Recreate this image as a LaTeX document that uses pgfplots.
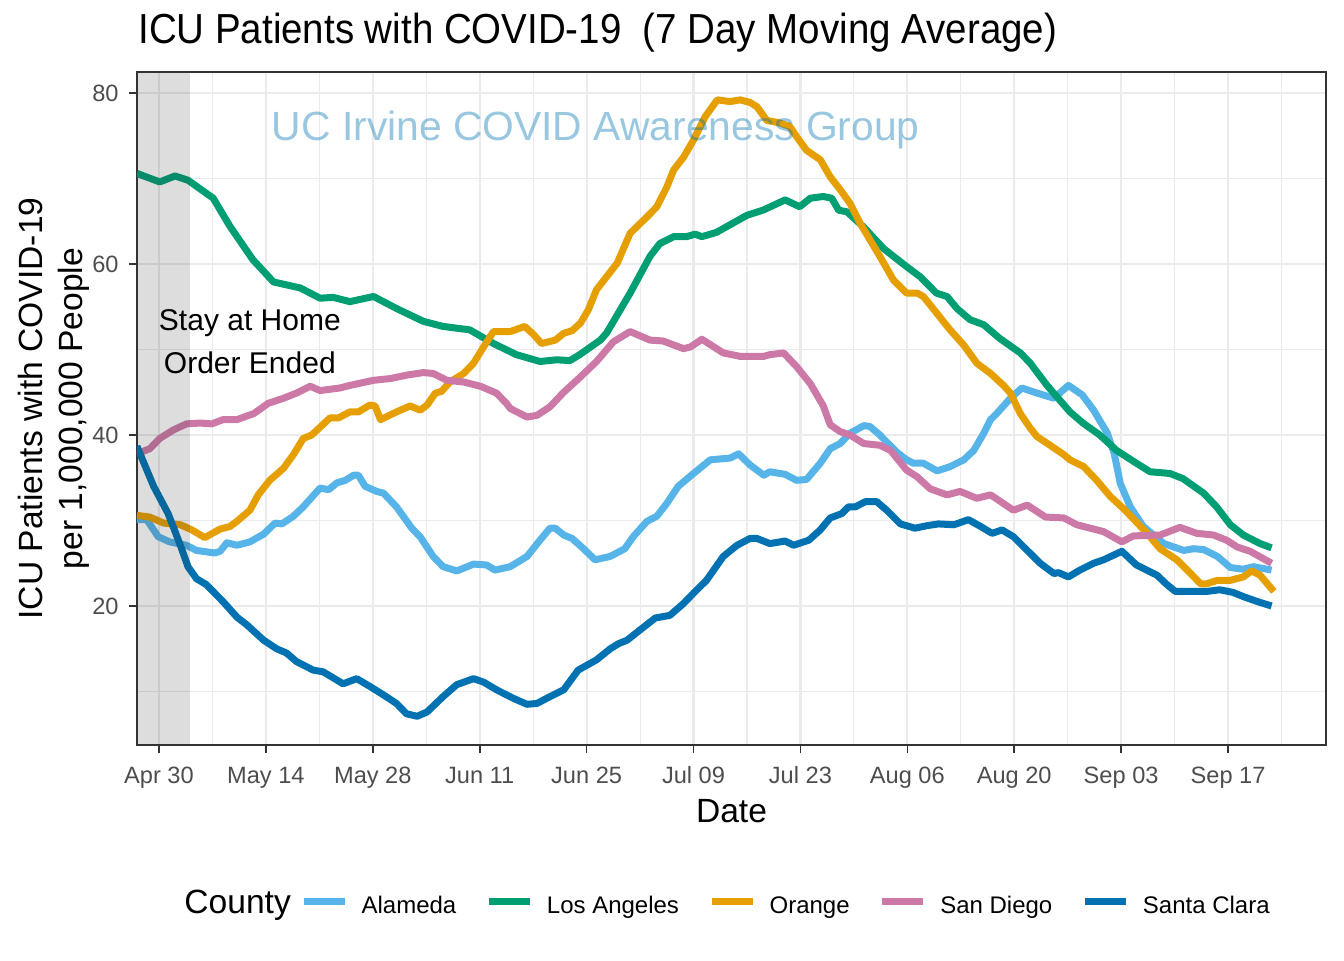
\documentclass[border=0pt]{standalone}
\usepackage{fontspec}
\setmainfont{Liberation Sans}
\usepackage{pgfplots}
\pgfplotsset{compat=1.18}
\definecolor{cAla}{HTML}{56B4E9}
\definecolor{cLA}{HTML}{009E73}
\definecolor{cOra}{HTML}{E69F00}
\definecolor{cSD}{HTML}{CC79A7}
\definecolor{cSC}{HTML}{0072B2}
\definecolor{gridc}{RGB}{235,235,235}
\definecolor{grey20}{RGB}{51,51,51}
\definecolor{grey30}{RGB}{77,77,77}
\begin{document}
\begin{tikzpicture}
\path[use as bounding box] (-68.5pt,-107.5pt) rectangle (603.5pt,372.5pt);
\begin{axis}[
 at={(0pt,0pt)}, anchor=south west,
 scale only axis, width=594.5pt, height=336.5pt,
 xmin=-2.88, xmax=152.83, ymin=3.74, ymax=82.46,
 xtick={0,14,...,140},
 xticklabels={Apr 30,May 14,May 28,Jun 11,Jun 25,Jul 09,Jul 23,Aug 06,Aug 20,Sep 03,Sep 17},
 minor xtick={7,21,...,147},
 ytick={20,40,60,80},
 minor ytick={10,30,50,70},
 grid=both,
 major grid style={gridc, line width=1.1pt},
 minor grid style={gridc, line width=0.55pt},
 axis line style={grey20, line width=0.8pt},
 tick style={grey20, line width=0.8pt},
 major tick length=4pt, minor tick length=0pt,
 tick align=outside, xtick pos=left, ytick pos=left,
 ticklabel style={font=\fontsize{11.8}{14}\selectfont, text=grey30},
 /pgf/number format/assume math mode=true,
 xticklabel style={anchor=base, inner sep=0pt, yshift=-15pt},
 yticklabel style={anchor=east, inner sep=0pt, xshift=-5pt},
 every axis plot/.append style={line width=3.5pt, line join=round},
 legend columns=-1,
 legend image code/.code={\draw[#1, line width=3.5pt, line cap=butt] (0pt,2.5pt) -- (20.5pt,2.5pt);},
 legend style={at={(0.1371,-0.2403)}, anchor=west, draw=none, fill=none, inner sep=0pt, outer sep=0pt,
   font=\fontsize{12}{14}\selectfont, nodes={inner sep=0pt},
   /tikz/every odd column/.append style={column sep=6.8pt},
   /tikz/every even column/.append style={column sep=14.5pt}},
]
\addplot[cAla] coordinates {(-2.9,30.1) (-1.6,30.1) (-0.1,28.1) (1.4,27.5) (3.6,27.1) (4.9,26.5) (7.3,26.2) (8.0,26.4) (8.9,27.4) (10.2,27.1) (11.9,27.5) (13.7,28.4) (15.2,29.7) (16.1,29.6) (17.6,30.5) (18.9,31.6) (21.1,33.8) (22.2,33.6) (23.3,34.4) (24.4,34.7) (25.5,35.3) (26.1,35.3) (27.0,34.0) (28.5,33.4) (29.4,33.2) (31.1,31.6) (33.1,29.1) (34.2,28.1) (35.9,25.8) (37.2,24.6) (39.0,24.1) (41.2,24.9) (42.9,24.8) (44.0,24.2) (46.0,24.6) (48.2,25.8) (49.9,27.7) (51.2,29.1) (51.9,29.1) (53.0,28.3) (54.1,27.9) (55.6,26.7) (57.1,25.4) (59.1,25.8) (61.0,26.7) (62.1,28.1) (63.9,29.9) (65.2,30.5) (66.5,32.0) (68.0,34.0) (70.0,35.5) (72.2,37.1) (74.8,37.3) (75.9,37.8) (77.4,36.5) (79.2,35.3) (80.0,35.7) (82.0,35.4) (83.5,34.7) (84.8,34.8) (86.6,36.7) (87.9,38.4) (89.2,39.0) (90.5,40.2) (92.3,41.1) (93.1,41.0) (94.4,40.0) (95.5,39.0) (96.6,38.0) (97.9,37.1) (98.8,36.7) (100.1,36.7) (101.9,35.8) (103.6,36.3) (105.4,37.1) (106.7,38.2) (108.0,40.2) (108.9,41.8) (109.7,42.5) (111.5,44.3) (113.0,45.5) (115.0,44.9) (117.2,44.3) (119.1,45.8) (120.9,44.7) (122.4,42.9) (124.2,40.2) (125.1,37.8) (125.9,34.3) (127.2,31.6) (128.9,29.3) (131.6,27.3) (134.2,26.5) (135.5,26.7) (136.8,26.6) (138.6,25.8) (140.3,24.5) (142.0,24.3) (143.3,24.6) (145.7,24.2)};
\addlegendentry{Alameda}
\addplot[cLA] coordinates {(-2.9,70.6) (0.1,69.6) (2.1,70.3) (3.8,69.8) (7.1,67.7) (9.3,64.4) (12.3,60.5) (15.0,57.9) (18.5,57.2) (21.1,56.0) (22.8,56.1) (25.0,55.6) (28.1,56.2) (31.1,54.8) (34.6,53.3) (37.2,52.7) (40.7,52.3) (43.8,50.7) (46.8,49.4) (49.9,48.6) (52.1,48.8) (53.8,48.7) (55.1,49.4) (57.8,51.1) (58.6,51.9) (61.7,56.6) (64.3,60.9) (65.6,62.4) (67.4,63.2) (69.1,63.2) (70.2,63.5) (71.1,63.2) (73.0,63.7) (74.8,64.6) (77.0,65.7) (79.1,66.3) (82.0,67.5) (83.9,66.7) (85.3,67.7) (87.0,67.9) (88.1,67.7) (89.0,66.3) (90.1,66.1) (92.2,64.4) (94.9,61.8) (97.9,59.7) (99.7,58.5) (101.8,56.6) (103.2,56.2) (104.5,54.8) (106.2,53.5) (108.0,52.9) (110.1,51.3) (112.8,49.6) (114.1,48.4) (116.3,45.8) (119.3,42.7) (121.0,41.4) (123.2,40.0) (125.4,38.2) (128.0,36.7) (129.8,35.7) (132.4,35.5) (134.1,34.9) (136.8,33.2) (138.5,31.6) (140.3,29.5) (142.0,28.3) (144.2,27.3) (145.7,26.8)};
\addlegendentry{Los Angeles}
\addplot[cOra] coordinates {(-2.9,30.6) (-1.2,30.4) (0.6,29.7) (2.8,29.5) (4.3,28.9) (6.0,28.0) (8.0,29.0) (9.3,29.3) (10.2,29.9) (11.9,31.2) (13.0,33.0) (14.5,34.7) (16.3,36.1) (17.6,37.7) (18.9,39.6) (20.0,40.0) (22.4,42.0) (23.5,42.0) (25.0,42.7) (26.1,42.7) (27.6,43.5) (28.3,43.4) (29.0,41.8) (31.1,42.7) (32.9,43.4) (34.2,42.9) (35.1,43.5) (36.2,44.9) (37.0,45.1) (38.1,46.2) (39.9,47.2) (41.2,48.4) (42.5,50.3) (43.8,52.1) (46.0,52.1) (47.9,52.7) (49.0,51.8) (50.1,50.7) (51.9,51.1) (53.0,51.9) (54.1,52.2) (55.2,53.1) (56.2,54.6) (57.3,57.0) (60.0,60.1) (61.7,63.6) (63.9,65.5) (65.2,66.7) (66.5,69.0) (67.4,71.0) (68.7,72.5) (70.0,74.5) (71.5,77.2) (73.1,79.2) (74.8,79.0) (76.1,79.2) (77.4,78.9) (78.3,78.4) (79.6,76.8) (81.3,76.5) (82.6,76.1) (83.5,74.9) (84.8,73.3) (86.6,72.2) (87.9,70.2) (89.2,68.7) (90.5,67.1) (91.8,64.8) (94.4,60.9) (96.2,58.1) (97.9,56.6) (99.3,56.6) (100.1,56.2) (101.9,54.2) (103.6,52.3) (105.4,50.5) (107.1,48.4) (108.9,47.2) (110.6,45.8) (111.5,44.9) (112.8,42.5) (114.1,40.8) (115.0,39.8) (116.7,38.8) (118.5,37.7) (119.3,37.1) (121.1,36.3) (122.8,34.7) (124.6,32.8) (126.3,31.4) (127.6,30.2) (129.4,28.5) (131.1,26.7) (133.3,25.4) (135.1,23.8) (136.4,22.6) (137.2,22.6) (138.6,23.0) (140.3,23.0) (142.0,23.4) (143.1,24.1) (144.2,23.6) (146.0,21.7)};
\addlegendentry{Orange}
\addplot[cSD] coordinates {(-2.9,37.8) (-1.2,38.4) (0.1,39.6) (1.9,40.6) (3.6,41.3) (5.4,41.4) (6.9,41.3) (8.4,41.8) (10.2,41.8) (12.4,42.5) (14.3,43.7) (16.3,44.3) (18.0,44.9) (19.8,45.7) (21.1,45.2) (23.7,45.5) (25.0,45.8) (28.1,46.4) (30.3,46.6) (32.4,47.0) (34.6,47.3) (35.9,47.2) (37.7,46.4) (39.9,46.2) (42.1,45.7) (44.2,44.9) (45.5,43.7) (46.0,43.1) (48.2,42.1) (49.5,42.3) (51.2,43.3) (53.0,45.0) (55.2,46.8) (57.3,48.6) (59.5,50.9) (61.7,52.1) (64.3,51.1) (66.0,51.0) (68.7,50.1) (69.6,50.3) (71.1,51.2) (73.9,49.6) (76.1,49.2) (79.2,49.2) (80.0,49.4) (81.8,49.6) (83.5,48.0) (85.3,46.0) (87.0,43.4) (87.9,41.2) (89.2,40.4) (90.5,40.0) (92.3,39.0) (94.4,38.8) (95.8,38.2) (97.9,35.9) (99.3,35.1) (101.0,33.7) (103.2,33.0) (104.9,33.4) (107.1,32.6) (108.9,33.0) (111.9,31.2) (113.7,31.8) (116.1,30.4) (118.5,30.3) (120.2,29.5) (123.7,28.7) (126.1,27.5) (127.6,28.2) (131.1,28.3) (133.7,29.2) (135.9,28.5) (138.1,28.3) (139.8,27.7) (141.2,26.9) (142.9,26.4) (145.7,25.0)};
\addlegendentry{San Diego}
\addplot[cSC] coordinates {(-2.9,38.7) (-0.7,34.0) (1.2,30.8) (2.8,27.1) (3.8,24.6) (4.9,23.2) (6.2,22.5) (8.4,20.5) (10.2,18.7) (11.5,17.8) (13.7,16.0) (15.4,15.0) (16.7,14.5) (18.0,13.5) (20.2,12.5) (21.5,12.3) (24.1,10.9) (25.9,11.5) (27.6,10.6) (29.4,9.6) (31.1,8.6) (32.4,7.4) (33.8,7.1) (35.1,7.6) (37.2,9.4) (39.0,10.8) (41.2,11.5) (42.5,11.1) (44.2,10.2) (46.4,9.2) (48.2,8.5) (49.5,8.6) (51.2,9.4) (53.0,10.2) (54.9,12.5) (57.3,13.7) (59.1,15.0) (60.2,15.6) (61.3,16.0) (63.0,17.2) (65.0,18.6) (66.9,18.9) (68.7,20.3) (70.0,21.5) (71.7,23.0) (73.9,25.8) (75.7,27.1) (77.4,27.9) (78.3,27.9) (80.0,27.3) (82.0,27.6) (83.1,27.1) (85.1,27.7) (86.6,28.9) (87.9,30.3) (89.4,30.8) (90.3,31.6) (91.2,31.6) (92.5,32.2) (94.0,32.2) (95.3,31.2) (97.1,29.6) (99.0,29.1) (100.6,29.4) (102.1,29.6) (104.1,29.5) (106.0,30.1) (107.6,29.3) (109.1,28.5) (110.4,28.9) (111.9,28.1) (113.7,26.5) (115.4,25.0) (117.2,23.8) (117.8,23.9) (119.1,23.4) (120.6,24.2) (122.4,25.0) (123.7,25.4) (126.1,26.4) (128.0,24.8) (130.7,23.6) (132.0,22.5) (133.1,21.7) (135.5,21.7) (137.2,21.7) (138.9,21.9) (140.6,21.6) (142.0,21.1) (143.9,20.5) (145.7,20.0)};
\addlegendentry{Santa Clara}
\fill[black!80, fill opacity=0.17] (axis cs:-10,0) rectangle (axis cs:4.06,100);
\node[anchor=base, inner sep=0pt, font=\fontsize{20.4}{24}\selectfont, text=cSC, text opacity=0.4] at (axis cs:57.2,74.5) {UC Irvine COVID Awareness Group};
\node[anchor=base, inner sep=0pt, font=\fontsize{15}{18}\selectfont] at (axis cs:11.9,52.28) {Stay at Home};
\node[anchor=base, inner sep=0pt, font=\fontsize{15}{18}\selectfont] at (axis cs:11.9,47.25) {Order Ended};
\end{axis}
\node[anchor=base west, inner sep=0pt, font=\fontsize{21}{25}\selectfont] at (0.5pt,350.75pt) {\scalebox{0.916}[1]{ICU Patients with COVID-19\ \ (7 Day Moving Average)}};
\node[rotate=90, anchor=base, inner sep=0pt, font=\fontsize{16.8}{20}\selectfont] at (-47pt,168.25pt) {ICU Patients with COVID-19};
\node[rotate=90, anchor=base, inner sep=0pt, font=\fontsize{16.8}{20}\selectfont] at (-27pt,168.25pt) {per 1,000,000 People};
\node[anchor=base, inner sep=0pt, font=\fontsize{16.8}{20}\selectfont] at (297.25pt,-38.5pt) {Date};
\node[anchor=base west, inner sep=0pt, font=\fontsize{16.8}{20}\selectfont] at (23.5pt,-84pt) {County};
\end{tikzpicture}
\end{document}
